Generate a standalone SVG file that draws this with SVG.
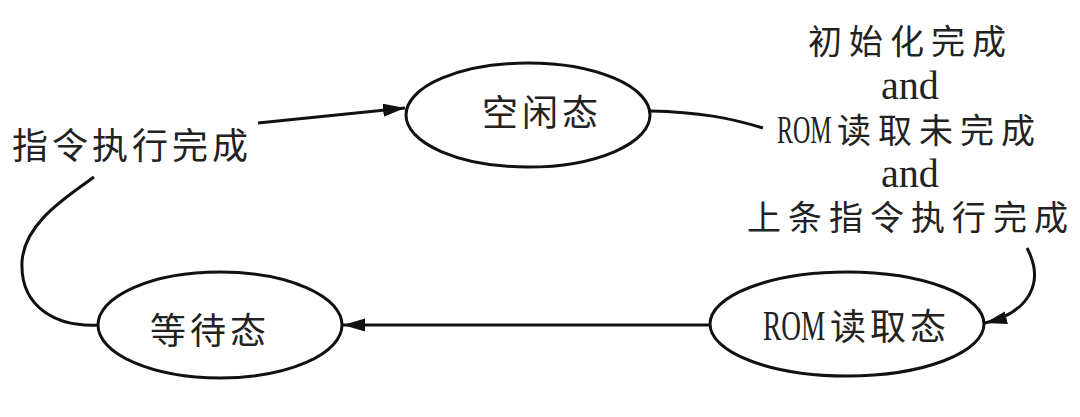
<svg xmlns="http://www.w3.org/2000/svg" width="1080" height="417" viewBox="0 0 1080 417">
<style>
.node{fill:#fff;stroke:#111;stroke-width:3}
.edge{fill:none;stroke:#111;stroke-width:3}
.cjk{font-family:"Liberation Serif","Noto Sans CJK SC",serif;fill:#222}
.lat{font-family:"Liberation Serif","Noto Sans CJK SC",serif;fill:#222}
</style>
<defs>
<marker id="ah" markerUnits="userSpaceOnUse" markerWidth="24" markerHeight="14" refX="22" refY="6.5" orient="auto">
<path d="M0,0 L22,6.5 L0,13 z" fill="#111"/>
</marker>
</defs>
<rect width="1080" height="417" fill="#fff"/>
<g id="connectors">
<line class="edge" x1="258" y1="123" x2="405" y2="108" marker-end="url(#ah)"/>
<path class="edge" d="M650,111 C700,112 730,118 763,128"/>
<path class="edge" d="M1027,248 C1045,282 1030,312 985,323" marker-end="url(#ah)"/>
<line class="edge" x1="710" y1="325" x2="343" y2="325" marker-end="url(#ah)"/>
<path class="edge" d="M98,325 C60,327 20,310 22,262 C24,222 70,195 94,177"/>
</g>
<g id="node-idle">
<ellipse class="node" cx="528" cy="115" rx="122" ry="52"/>
<text class="cjk" x="482" y="126" font-size="36" letter-spacing="4">空闲态</text>
</g>
<g id="node-rom">
<ellipse class="node" cx="847" cy="324" rx="137" ry="52"/>
<text class="lat" transform="translate(763,340) scale(0.65,1)" font-size="42">ROM</text>
<text class="cjk" x="830" y="340" font-size="36" letter-spacing="4">读取态</text>
</g>
<g id="node-wait">
<ellipse class="node" cx="220" cy="325" rx="122" ry="53"/>
<text class="cjk" x="150" y="344" font-size="36" letter-spacing="4">等待态</text>
</g>
<g id="label-left">
<text class="cjk" x="12" y="159" font-size="36" letter-spacing="4">指令执行完成</text>
</g>
<g id="label-right">
<text class="cjk" x="808" y="54" font-size="34" letter-spacing="7">初始化完成</text>
<text class="lat" x="910" y="99" font-size="40" text-anchor="middle">and</text>
<text class="lat" transform="translate(777,143) scale(0.6,1)" font-size="40">ROM</text>
<text class="cjk" x="837" y="143" font-size="34" letter-spacing="7">读取未完成</text>
<text class="lat" x="910" y="187" font-size="40" text-anchor="middle">and</text>
<text class="cjk" x="747" y="230" font-size="34" letter-spacing="7">上条指令执行完成</text>
</g>
</svg>
